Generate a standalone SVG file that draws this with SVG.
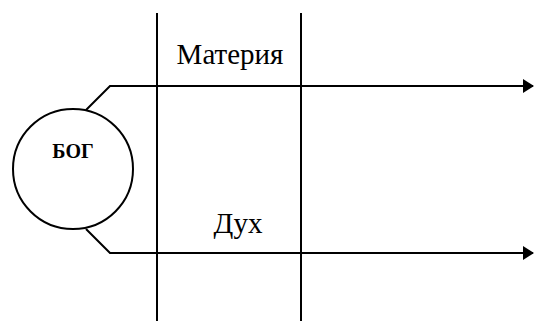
<svg xmlns="http://www.w3.org/2000/svg" width="534" height="322" viewBox="0 0 534 322">
<style>
.ln{stroke:#000;stroke-width:2;fill:none}
.t{font-family:"Liberation Serif","Times New Roman",serif;fill:#000}
</style>
<defs>
<marker id="ah" markerWidth="11" markerHeight="14" refX="10" refY="7" orient="auto" markerUnits="userSpaceOnUse">
<path d="M0,0 L11,7 L0,14 Z" fill="#000"/>
</marker>
</defs>
<rect width="534" height="322" fill="#fff"/>
<g id="dividers">
<line class="ln" x1="157" y1="13" x2="157" y2="321"/>
<line class="ln" x1="301" y1="13" x2="301" y2="321"/>
</g>
<g id="god">
<circle class="ln" cx="73" cy="169" r="60"/>
<text class="t" x="73" y="158" font-size="20" font-weight="bold" text-anchor="middle">БОГ</text>
</g>
<g id="connectors">
<polyline class="ln" points="86,110 110,86 533,86" marker-end="url(#ah)"/>
<polyline class="ln" points="86,229 110,253 533,253" marker-end="url(#ah)"/>
</g>
<g id="labels">
<text class="t" x="230" y="64" font-size="29" text-anchor="middle">Материя</text>
<text class="t" x="238" y="233" font-size="29" text-anchor="middle">Дух</text>
</g>
</svg>
